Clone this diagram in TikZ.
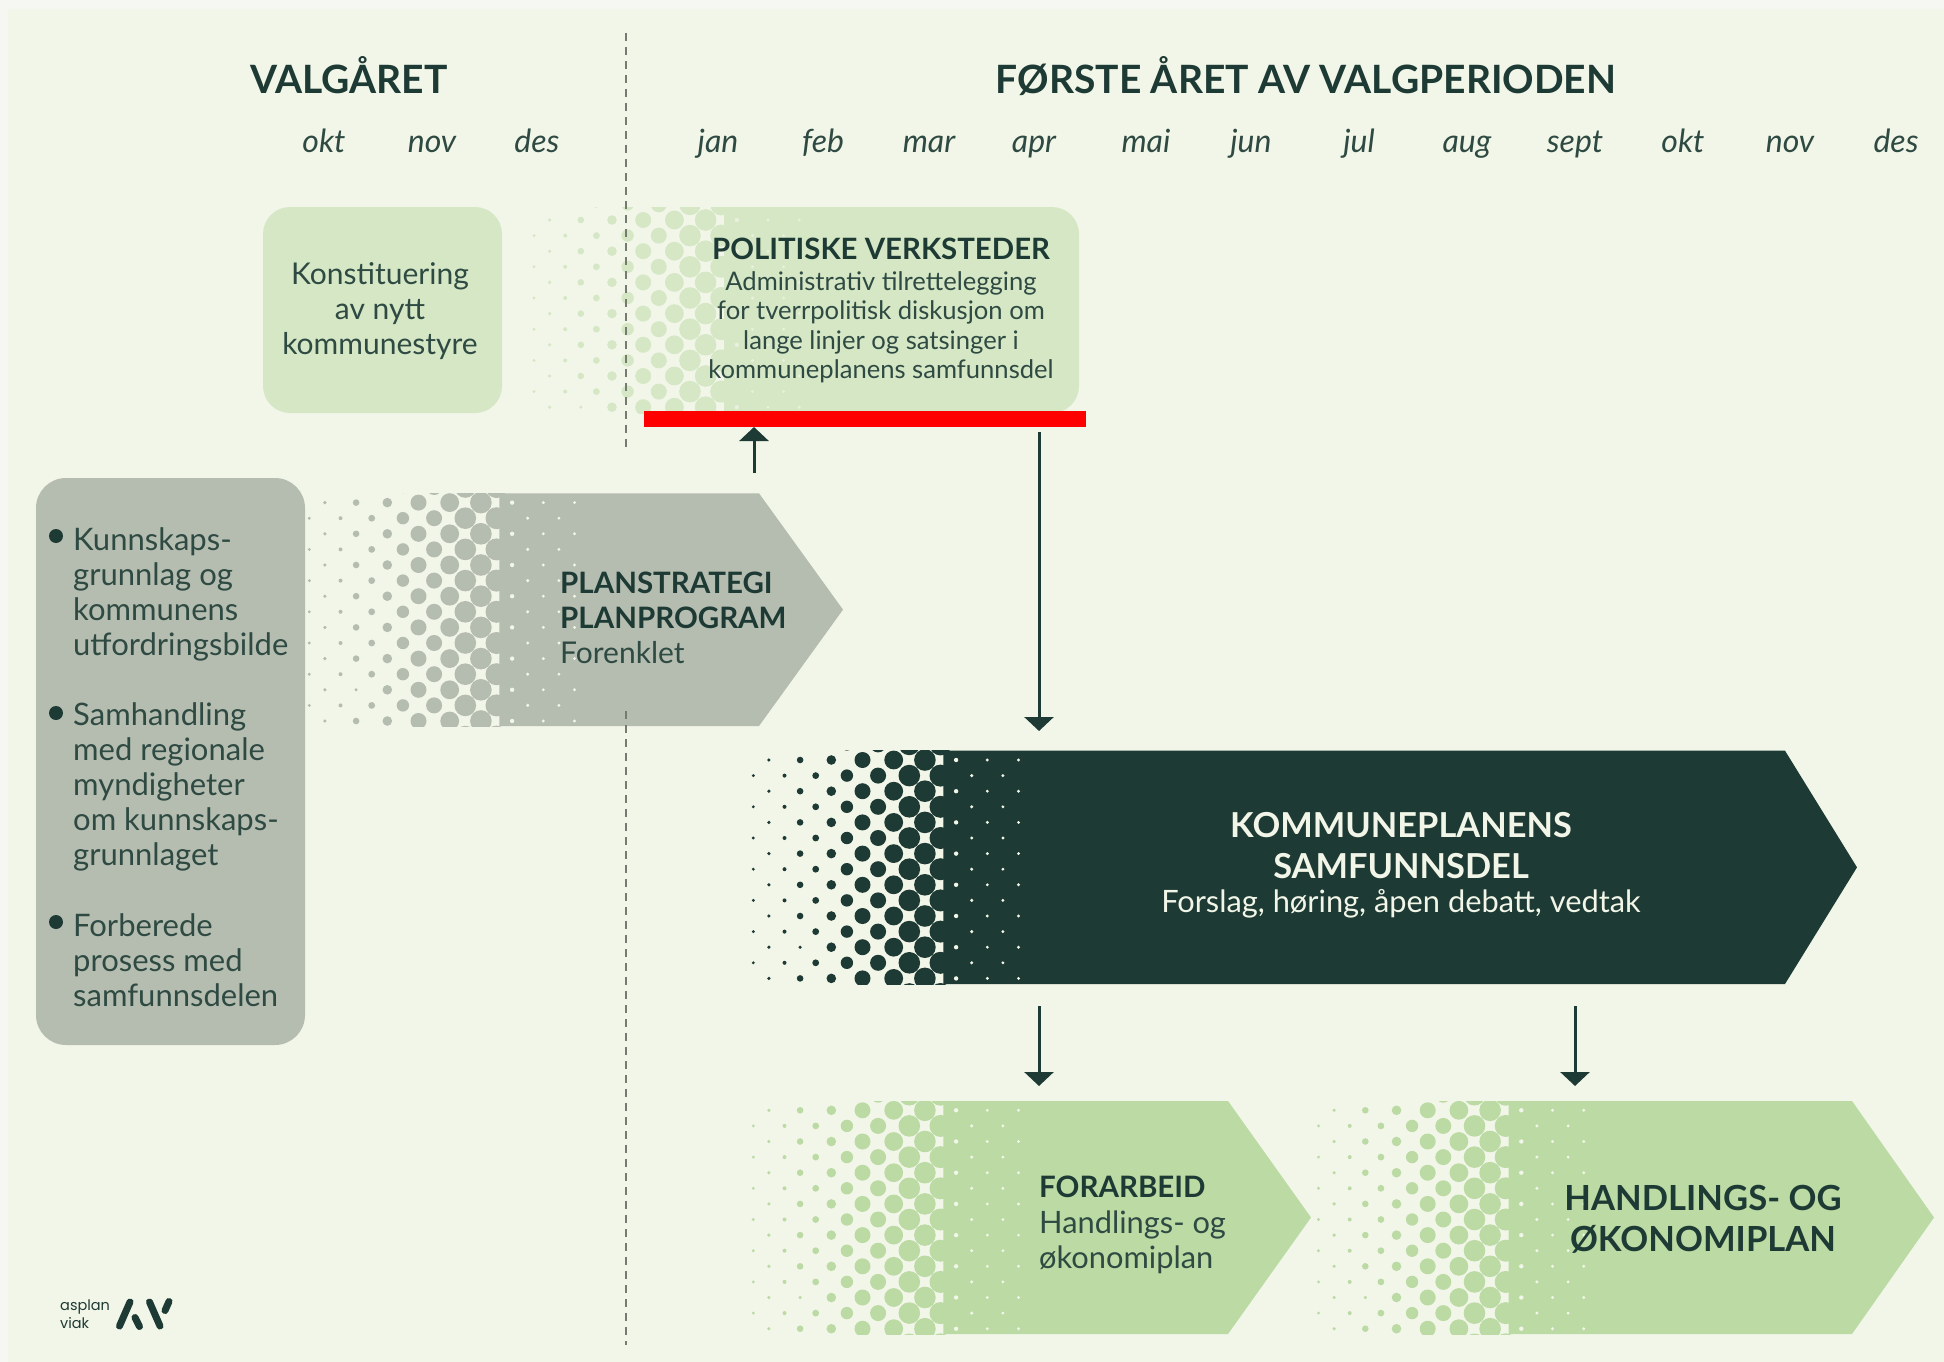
\documentclass[tikz,border=0pt]{standalone}
\usepackage{fontspec}
\setmainfont{Lato}
\newfontfamily\logofont{Poppins}
\usetikzlibrary{arrows.meta}

\definecolor{paper}{HTML}{F6F7F2}
\definecolor{base}{HTML}{F2F6E8}
\definecolor{ink}{HTML}{1E3A34}
\definecolor{body}{HTML}{2E4A42}
\definecolor{stone}{HTML}{B5BDB0}
\definecolor{leaf}{HTML}{BBDAA4}
\definecolor{pale}{HTML}{D5E7C5}
\definecolor{paledot}{HTML}{E8F1DB}

\newcommand{\halftone}[6]{
  \begin{scope}
    \clip (#1-5,#2) rectangle (#1+275,#3);
    \foreach \k/\r in {0/1.6,1/1.8,2/2.0,3/3.3,4/3.4,5/4.8,6/6.2,7/8.0,8/8.0,9/9.4,10/10.8,11/10.8,12/11.0} {
      \foreach \j in {-1,...,7} {
        \pgfmathsetmacro{\dotx}{#1+15.6*\k}
        \pgfmathsetmacro{\doty}{#4+31.2*\j+15.6*(1-mod(\k,2))}
        \pgfmathsetmacro{\dotr}{(\k==3 && \j==6) ? 1.7 : \r}
        \fill[#5] (\dotx,\doty) circle (\dotr pt);
      }
    }
    \foreach \k/\r in {13/2.2,14/1.7,15/1.6,16/1.6,17/1.6} {
      \foreach \j in {-1,...,7} {
        \pgfmathsetmacro{\dotx}{#1+15.6*\k}
        \pgfmathsetmacro{\doty}{#4+31.2*\j+15.6*(1-mod(\k,2))}
        \fill[#6] (\dotx,\doty) circle (\r pt);
      }
    }
  \end{scope}
}

\newcommand{\band}[6]{
  \fill[#6] (#1+190,#2) -- (#4,#2) -- ({#5},{(#2+#3)/2}) -- (#4,#3) -- (#1+190,#3) -- cycle;
  \halftone{#1}{#2}{#3}{#2+9.3}{#6}{base}
}

\tikzset{
  month/.style={font=\fontsize{32}{36}\itshape\selectfont,text=body,inner sep=0pt,anchor=base},
  title/.style={font=\fontsize{39}{44}\bfseries\selectfont,text=ink,inner sep=0pt,anchor=base},
  heading/.style={font=\fontsize{29.5}{35}\bfseries\selectfont,text=ink,inner sep=0pt,anchor=base west,align=left},
  bodytext/.style={font=\fontsize{30}{35}\selectfont,text=body,inner sep=0pt,anchor=base west,align=left},
  bullettext/.style={font=\fontsize{31}{35}\selectfont,text=body,inner sep=0pt,anchor=north west,align=left},
  bullet/.style={circle,fill=ink,minimum size=14pt,inner sep=0pt},
  divider/.style={draw=black!35!stone,line width=2.6pt,dash pattern=on 8pt off 6pt},
  flow/.style={draw=ink,line width=3pt,-{Triangle[width=29pt,length=14pt]}},
  logostroke/.style={draw=ink,line width=7pt,line cap=round}
}

\begin{document}
\begin{tikzpicture}[x=1pt,y=-1pt]
      \useasboundingbox (0,0) rectangle (1944,1362);
      \fill[paper] (0,0) rectangle (1944,1362);
      \fill[base] (8,9) rectangle (1944,1362);

      \node[title] (valgaar) at (349,93.5) {VALGÅRET};
      \node[title] (forsteaar) at (1306,93.5) {FØRSTE ÅRET AV VALGPERIODEN};

      \foreach \x/\m/\n in {324/okt/m1,432/nov/m2,537/des/m3,718/jan/m4,823/feb/m5,929/mar/m6,1034/apr/m7,1146/mai/m8,1251/jun/m9,1359/jul/m10,1467/aug/m11,1575/sept/m12,1683/okt/m13,1790/nov/m14,1896/des/m15}
        \node[month] (\n) at (\x,153) {\m};

      \fill[pale,rounded corners=27pt] (263,207) rectangle (502,413);
      \node[bodytext,anchor=north,align=center] (konst) at (380,262.5) {Konstituering\\av nytt\\kommunestyre};

      \fill[pale] (724,207) [rounded corners=27pt] -- (1079,207) -- (1079,413) [sharp corners] -- (724,413) -- cycle;
      \halftone{534}{207}{413}{220}{pale}{paledot}
      \node[heading,font=\fontsize{29.4}{33}\bfseries\selectfont,anchor=base] (polhead) at (881,259) {POLITISKE VERKSTEDER};
      \node[bodytext,font=\fontsize{25.6}{29.4}\selectfont,anchor=north,align=center] (polbody) at (881,271.5) {Administrativ tilrettelegging\\for tverrpolitisk diskusjon om\\lange linjer og satsinger i\\kommuneplanens samfunnsdel};

      \fill[stone,rounded corners=30pt] (36,478) rectangle (305,1045);
      \node[bullet] (b1) at (56,536) {};
      \node[bullet] (b2) at (56,713) {};
      \node[bullet] (b3) at (56,922) {};
      \node[bullettext] (t1) at (73,527) {Kunnskaps-\\grunnlag og\\kommunens\\utfordringsbilde};
      \node[bullettext] (t2) at (73,702) {Samhandling\\med regionale\\myndigheter\\om kunnskaps-\\grunnlaget};
      \node[bullettext] (t3) at (73,913) {Forberede\\prosess med\\samfunnsdelen};

      \band{309.3}{493.3}{726}{759}{843}{stone}
      \node[heading] (planstrat) at (560,593) {PLANSTRATEGI};
      \node[heading] (planprog) at (560,628) {PLANPROGRAM};
      \node[bodytext] (forenklet) at (560,663) {Forenklet};

      \band{753.3}{750.7}{984}{1785}{1857}{ink}
      \node[heading,font=\fontsize{34.4}{41}\bfseries\selectfont,text=base,anchor=north,align=center] (kommune) at (1401,812) {KOMMUNEPLANENS\\SAMFUNNSDEL};
      \node[bodytext,font=\fontsize{30.8}{35}\selectfont,text=base,anchor=base] (forslag) at (1401,912) {Forslag, høring, åpen debatt, vedtak};

      \band{753.3}{1101}{1334}{1228}{1311}{leaf}
      \node[heading] (forarbeid) at (1039,1197) {FORARBEID};
      \node[bodytext,font=\fontsize{30.8}{35}\selectfont,anchor=north west] (forarbtxt) at (1039,1211) {Handlings- og\\økonomiplan};

      \band{1318.5}{1101}{1334}{1852}{1934}{leaf}
      \node[heading,font=\fontsize{34.6}{41}\bfseries\selectfont,anchor=north,align=center] (hop) at (1703,1185) {HANDLINGS- OG\\ØKONOMIPLAN};

      \coordinate (d1) at (626,33);
      \coordinate (d2) at (626,450);
      \coordinate (d3) at (626,711);
      \coordinate (d4) at (626,1345);
      \draw[divider] (d1) -- (d2);
      \draw[divider] (d3) -- (d4);

      \fill[red] (644,410.5) rectangle (1085.5,426.5);

      \coordinate (a1) at (754,473);
      \coordinate (a2) at (754,427);
      \coordinate (a3) at (1039,432);
      \coordinate (a4) at (1039,731);
      \coordinate (a5) at (1039,1006);
      \coordinate (a6) at (1039,1086);
      \coordinate (a7) at (1575,1006);
      \coordinate (a8) at (1575,1086);
      \draw[flow] (a1) -- (a2);
      \draw[flow] (a3) -- (a4);
      \draw[flow] (a5) -- (a6);
      \draw[flow] (a7) -- (a8);

      \node[font=\fontsize{14.5}{18}\logofont\selectfont,text=ink,inner sep=0pt,anchor=base west] (asplan) at (60,1310) {asplan};
      \node[font=\fontsize{14.5}{18}\logofont\selectfont,text=ink,inner sep=0pt,anchor=base west] (viak) at (60,1328) {viak};
      \coordinate (l1) at (130,1302);
      \coordinate (l2) at (119.5,1326);
      \coordinate (l3) at (135,1317.5);
      \coordinate (l4) at (139.5,1326.5);
      \coordinate (l5) at (149.5,1302);
      \coordinate (l6) at (160,1326);
      \coordinate (l7) at (169,1301.5);
      \coordinate (l8) at (165,1310.5);
      \draw[logostroke] (l1) -- (l2);
      \draw[logostroke] (l3) -- (l4);
      \draw[logostroke] (l5) -- (l6);
      \draw[logostroke] (l7) -- (l8);
    \end{tikzpicture}
\end{document}
